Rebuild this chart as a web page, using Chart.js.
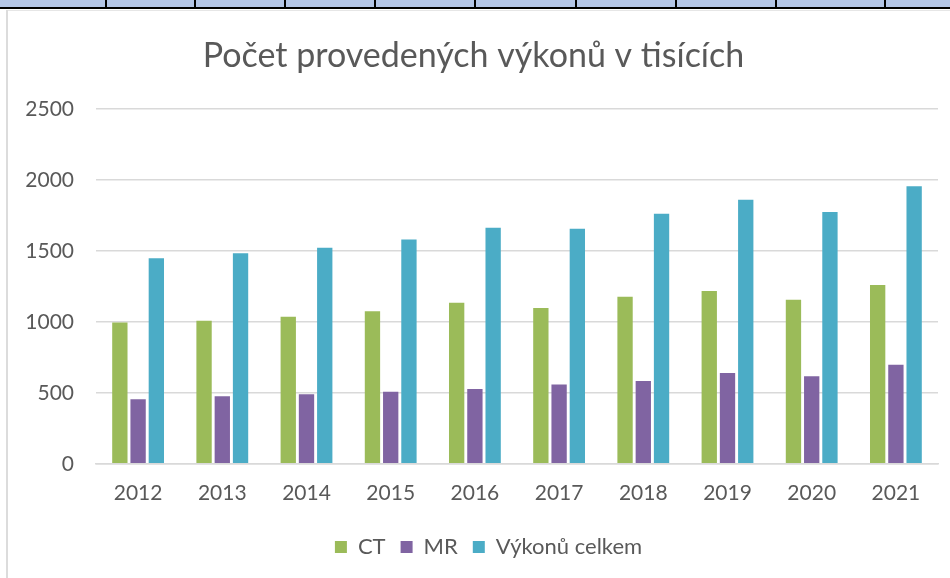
<!DOCTYPE html>
<html>
<head>
<meta charset="utf-8">
<script src="https://cdn.jsdelivr.net/npm/chart.js@4.4.1/dist/chart.umd.min.js"></script>
<style>
  html, body { margin: 0; padding: 0; background: #fff; width: 950px; height: 578px; overflow: hidden; }
  .strip { position: absolute; left: 0; top: 0; width: 950px; height: 7px; background: #b4c6e7; }
  .strip-line { position: absolute; left: 0; top: 7px; width: 950px; height: 2px; background: #000; }
  .cell-line { position: absolute; top: 0; width: 2px; height: 7px; background: #000; }
  .frame-top { position: absolute; left: 7px; top: 10px; width: 943px; height: 1px; background: #e6e6e6; }
  .frame-left { position: absolute; left: 6px; top: 10px; width: 2px; height: 568px; background: #dcdcdc; }
  #wrap { position: absolute; left: 9px; top: 11px; width: 941px; height: 567px; }
</style>
</head>
<body>
<div class="strip"></div>
<div class="strip-line"></div>
<div id="cells"></div>
<div class="frame-top"></div>
<div class="frame-left"></div>
<div id="wrap"><canvas id="chart"></canvas></div>
<script>
// Data
const years = ['2012', '2013', '2014', '2015', '2016', '2017', '2018', '2019', '2020', '2021'];
const ctValues = [995, 1008, 1035, 1074, 1134, 1097, 1177, 1217, 1156, 1259];
const mrValues = [454, 475, 489, 507, 527, 559, 583, 640, 617, 697];
const totalValues = [1448, 1483, 1521, 1580, 1662, 1655, 1761, 1860, 1773, 1954];
const yTicks = [0, 500, 1000, 1500, 2000, 2500];

// spreadsheet cell borders above the chart
const cellLines = [105, 194, 284, 374, 474, 575, 675, 775, 884];
cellLines.forEach((x) => {
  const d = document.createElement('div');
  d.className = 'cell-line';
  d.style.left = x + 'px';
  document.getElementById('cells').appendChild(d);
});

const textColor = '#595959';
const fontFamily = 'Lato, "Open Sans", sans-serif';

// legend in the original sits a bit right of the canvas centre
const legendShift = {
  id: 'legendShift',
  afterLayout(chart) {
    const legend = chart.legend;
    if (legend) {
      legend.left += 15;
      legend.right += 15;
    }
  },
};

const ctx = document.getElementById('chart').getContext('2d');
new Chart(ctx, {
  type: 'bar',
  data: {
    labels: years,
    datasets: [
      { label: 'CT', data: ctValues, backgroundColor: '#9bbb59' },
      { label: 'MR', data: mrValues, backgroundColor: '#8064a2' },
      { label: 'Výkonů celkem', data: totalValues, backgroundColor: '#4bacc6' },
    ],
  },
  options: {
    responsive: true,
    maintainAspectRatio: false,
    animation: false,
    datasets: {
      bar: { categoryPercentage: 0.65, barPercentage: 0.84 },
    },
    layout: { padding: { top: 25, right: 12, bottom: 10, left: 0 } },
    plugins: {
      title: {
        display: true,
        text: 'Počet provedených výkonů v tisících',
        color: textColor,
        font: { family: fontFamily, size: 34, weight: 'normal' },
        padding: { top: 0, bottom: 32 },
      },
      legend: {
        position: 'bottom',
        labels: {
          color: textColor,
          font: { family: fontFamily, size: 22 },
          boxWidth: 12,
          boxHeight: 12,
          padding: 15,
        },
      },
      tooltip: { enabled: false },
    },
    scales: {
      x: {
        grid: { display: false, drawTicks: false },
        border: { display: true, color: '#d9d9d9', width: 1.5 },
        ticks: {
          color: textColor,
          font: { family: fontFamily, size: 21 },
          padding: 17,
        },
        afterFit: (scale) => {
          scale.height = scale.height - 2;
        },
      },
      y: {
        min: 0,
        max: 2500,
        afterBuildTicks: (scale) => {
          scale.ticks = yTicks.map((v) => ({ value: v }));
        },
        afterFit: (scale) => {
          scale.width = 87;
        },
        grid: { color: '#d9d9d9', lineWidth: 1.5, drawTicks: false },
        border: { display: false },
        ticks: {
          color: textColor,
          font: { family: fontFamily, size: 21 },
          padding: 22,
          callback: (value) => String(value),
        },
      },
    },
  },
  plugins: [legendShift],
});
</script>
</body>
</html>
